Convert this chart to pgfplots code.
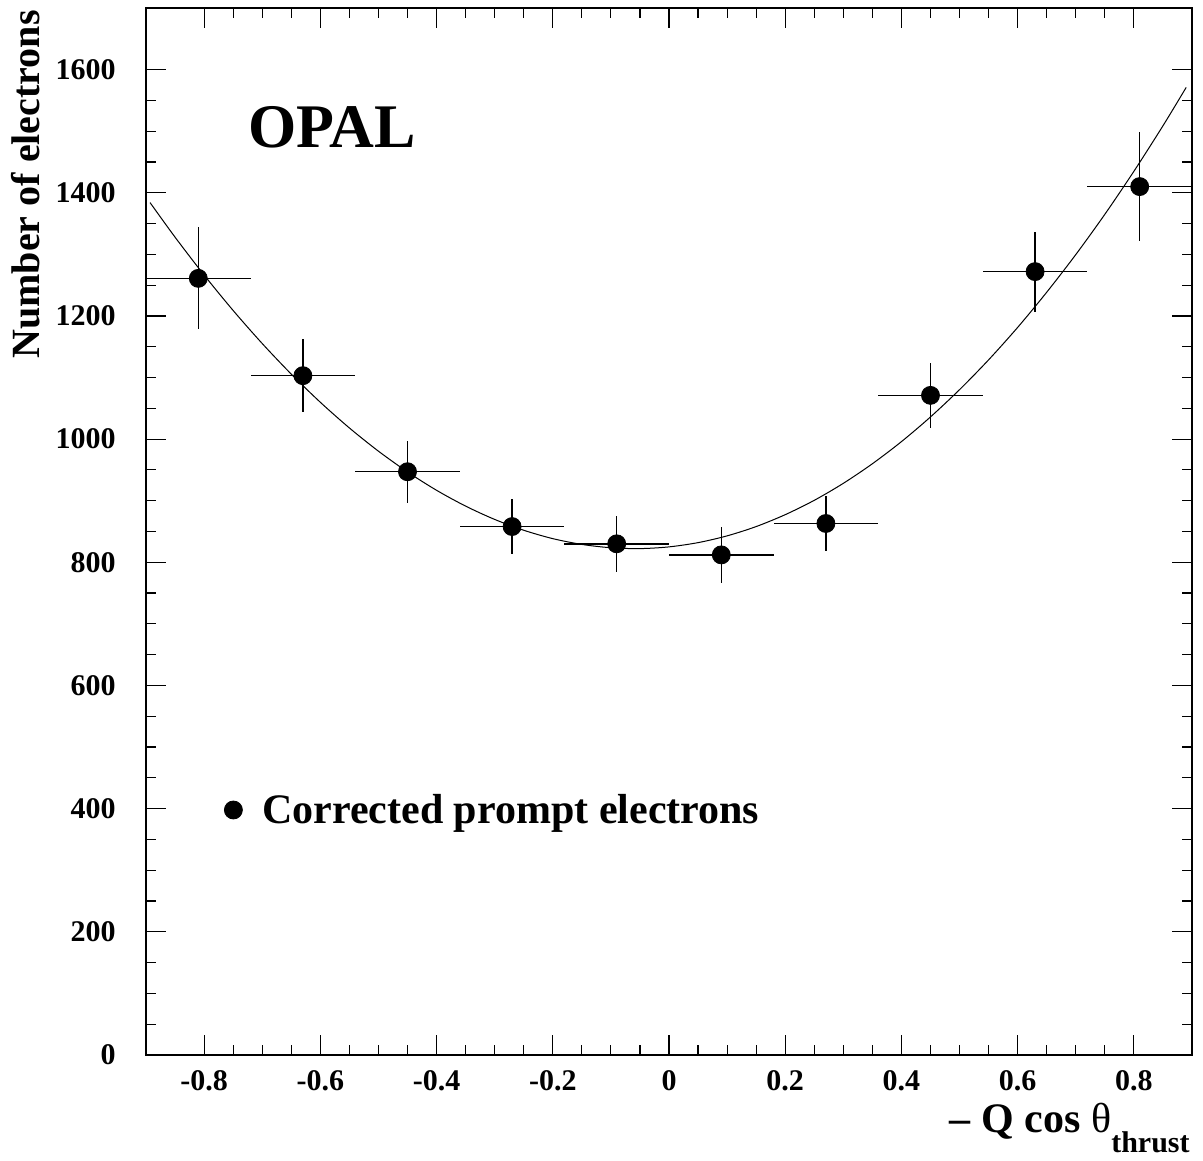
\documentclass[border=0pt]{standalone}
\usepackage{fontspec}
\setmainfont{Liberation Serif}
\usepackage{pgfplots}
\pgfplotsset{compat=1.18}
\usepackage{pgfplotstable}

\pgfplotstableread{
x y ex ey
-0.81 1261 0.09 83
-0.63 1103 0.09 59
-0.45 947 0.09 50
-0.27 858 0.09 45
-0.09 830 0.09 45
0.09 812 0.09 45
0.27 863 0.09 45
0.45 1071 0.09 53
0.63 1272 0.09 65
0.81 1410 0.09 89
}\datatable

\pgfplotstableread{
x y
-0.893 1384
-0.85 1327.9
-0.80 1266.4
-0.75 1208.8
-0.70 1155.2
-0.65 1105.5
-0.60 1059.8
-0.55 1018.1
-0.50 980.4
-0.45 946.7
-0.40 916.9
-0.35 891.2
-0.30 869.6
-0.25 852.0
-0.20 838.4
-0.15 829.0
-0.10 823.6
-0.05 822.2
0.00 825.0
0.05 831.9
0.10 842.9
0.15 858.0
0.20 877.3
0.25 900.6
0.30 928.2
0.35 960.0
0.40 995.9
0.45 1036.0
0.50 1080.3
0.55 1128.7
0.60 1181.4
0.65 1238.5
0.70 1299.6
0.75 1365.0
0.80 1434.8
0.85 1508.7
0.89 1571.0
}\fittable

\begin{document}
\begin{tikzpicture}
\begin{axis}[
  scale only axis,
  width=523pt, height=523.5pt,
  xmin=-0.9, xmax=0.9, ymin=0, ymax=1700,
  axis line style={line width=0.8pt},
  tick style={line width=0.6pt, black},
  tick align=inside,
  tick pos=both,
  major tick length=10pt, minor tick length=5pt,
  xtick={-0.8,-0.6,-0.4,-0.2,0,0.2,0.4,0.6,0.8},
  xticklabels={-0.8,-0.6,-0.4,-0.2,0,0.2,0.4,0.6,0.8},
  ytick={0,200,400,600,800,1000,1200,1400,1600},
  yticklabels={0,200,400,600,800,1000,1200,1400,1600},
  minor x tick num=3, minor y tick num=3,
  ticklabel style={font=\fontsize{15}{15}\selectfont\bfseries, inner sep=0pt},
  xticklabel style={anchor=north, yshift=-7.5pt},
  yticklabel style={anchor=east, xshift=-15pt},
  clip=false,
  legend style={at={([xshift=39pt,yshift=122.5pt]rel axis cs:0,0)}, anchor=west,
    draw=none, fill=none, inner sep=0pt, outer sep=0pt,
    font=\fontsize{21}{21}\selectfont\bfseries,
    nodes={inner sep=0pt}},
  legend image code/.code={\fill[black] (0pt,0pt) circle (4.5pt); \path[draw=none, fill=none] (-4.5pt,0pt) rectangle (14.5pt,0.1pt);},
]
\addplot[black, line width=0.5pt, smooth, forget plot] table[x=x,y=y] {\fittable};
\addplot[black, only marks, mark=*, mark size=4.5pt,
  error bars/.cd, x dir=both, x explicit, y dir=both, y explicit, error mark=none,
  error bar style={line width=0.7pt, black}]
  table[x=x, y=y, x error=ex, y error=ey] {\datatable};
\addlegendentry{Corrected prompt electrons}

\node[anchor=base west, inner sep=0pt, font=\fontsize{31}{31}\selectfont\bfseries]
  at ([xshift=51pt,yshift=-70pt]rel axis cs:0,1) {OPAL};
\node[rotate=90, anchor=base east, inner sep=0pt, font=\fontsize{20}{20}\selectfont\bfseries]
  at ([xshift=-53pt,yshift=-1pt]rel axis cs:0,1) {Number of electrons};
\node[anchor=base east, inner sep=0pt, font=\fontsize{21}{21}\selectfont\bfseries]
  at ([xshift=-1pt,yshift=-39pt]rel axis cs:1,0) {– Q cos \textmd{θ}\raisebox{-10pt}{\fontsize{15}{15}\selectfont thrust}};
\coordinate (bl) at ([xshift=-73pt,yshift=-53pt]rel axis cs:0,0);
\coordinate (tr) at ([xshift=5.5pt,yshift=4pt]rel axis cs:1,1);
\end{axis}
\pgfresetboundingbox
\path (bl) rectangle (tr);
\end{tikzpicture}
\end{document}
